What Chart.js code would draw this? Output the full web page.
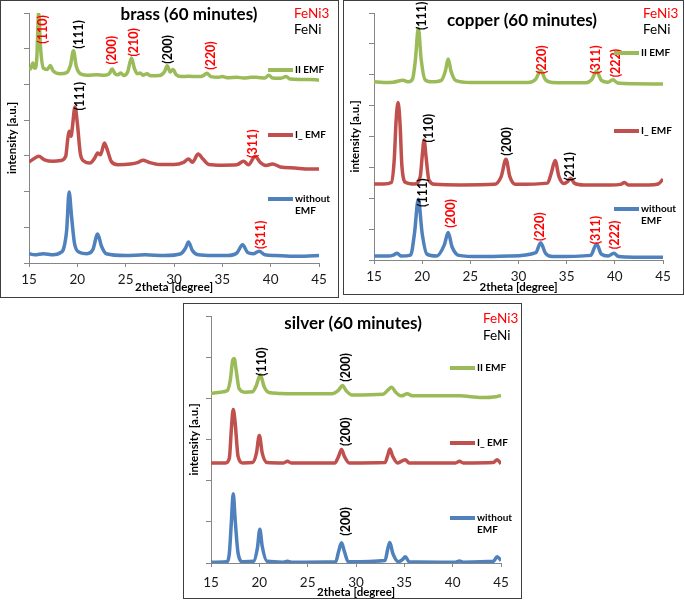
<!DOCTYPE html>
<html>
<head>
<meta charset="utf-8">
<script src="https://cdn.jsdelivr.net/npm/chart.js@4.4.0/dist/chart.umd.min.js"></script>
<style>
  body { margin: 0; background: #fff; }
  #page { position: relative; width: 685px; height: 601px; overflow: hidden; }
  canvas { position: absolute; }
  .box { position: absolute; border: 1.5px solid #3f3f3f; box-sizing: border-box; pointer-events: none; }
</style>
</head>
<body>
<div id="page">
  <canvas id="brass" width="339" height="298" style="left:0px;top:0px"></canvas>
  <canvas id="copper" width="341" height="295" style="left:343px;top:0px"></canvas>
  <canvas id="silver" width="339" height="296" style="left:183px;top:303px"></canvas>
  <div class="box" style="left:0px;top:0px;width:339px;height:298px"></div>
  <div class="box" style="left:343px;top:0px;width:341px;height:295px"></div>
  <div class="box" style="left:183px;top:303px;width:339px;height:296px"></div>
</div>
<script>
// series names
var seriesNames = ['II EMF', 'I_ EMF', 'without\nEMF'];

// ---- brass (60 minutes) ----
var brassX2 = [15.0,15.2,15.4,15.6,15.8,16.0,16.2,16.5,16.9,17.2,17.5,18.2,18.9,19.3,19.6,19.9,20.3,21.0,22.0,22.8,23.3,23.6,23.9,24.2,24.5,24.8,25.2,25.6,25.9,26.2,26.5,26.8,27.2,27.6,28.5,29.0,29.3,29.6,29.9,30.2,30.8,31.5,32.5,33.0,33.4,33.8,34.6,35.0,35.5,36.5,37.2,38.0,38.5,39.4,39.8,40.2,41.0,41.6,42.0,43.0,44.0,45.0];
var brassY2 = [5.42,5.45,5.6,5.45,5.7,7.0,6.0,5.45,5.42,5.53,5.38,5.3,5.33,5.55,5.94,5.5,5.3,5.26,5.27,5.26,5.3,5.43,5.3,5.27,5.32,5.25,5.35,5.74,5.45,5.3,5.32,5.26,5.3,5.24,5.25,5.35,5.52,5.35,5.42,5.28,5.22,5.23,5.22,5.24,5.31,5.22,5.2,5.22,5.19,5.2,5.18,5.2,5.2,5.18,5.26,5.18,5.17,5.22,5.15,5.14,5.14,5.12];
var brassX1 = [15.0,15.5,16.0,16.6,17.5,18.3,18.8,19.0,19.15,19.35,19.5,19.75,20.0,20.3,20.7,21.3,21.8,22.1,22.4,22.8,23.1,23.5,24.2,25.5,26.3,26.8,27.4,28.5,30.0,31.0,31.5,31.9,32.5,33.0,33.6,35.0,36.5,37.2,37.7,38.4,38.9,39.5,40.2,41.0,42.5,44.0,45.0];
var brassY1 = [2.83,2.92,2.99,2.89,2.85,2.87,2.99,3.45,3.69,3.55,3.83,4.37,3.92,3.08,2.85,2.80,2.94,3.08,3.03,3.36,3.17,2.85,2.75,2.77,2.82,2.88,2.82,2.76,2.76,2.82,2.91,2.82,3.05,2.91,2.76,2.74,2.75,2.85,2.75,2.99,2.82,2.73,2.77,2.69,2.66,2.63,2.63];
var brassX0 = [15.0,15.6,16.5,17.5,18.2,18.6,18.9,19.15,19.4,19.7,20.2,21.0,21.6,22.1,22.5,23.0,25.0,27.0,29.0,30.7,31.2,31.5,31.9,32.5,34.0,35.5,36.5,37.1,37.6,38.2,38.8,39.4,40.5,42.0,43.5,45.0];
var brassY0 = [0.26,0.23,0.26,0.23,0.28,0.42,0.93,1.99,1.31,0.56,0.30,0.26,0.37,0.81,0.47,0.26,0.21,0.23,0.21,0.26,0.42,0.59,0.35,0.23,0.21,0.21,0.28,0.51,0.30,0.26,0.33,0.23,0.21,0.19,0.19,0.21];
var brassHkl      = ['(110)','(111)','(200)','(210)','(200)','(220)','(111)','(311)','(311)'];
var brassHklX     = [16.45, 20.14, 23.6, 25.84, 29.4, 33.78, 20.25, 38.2, 38.96];
var brassHklY     = [6.54, 6.40, 5.96, 6.18, 5.98, 5.81, 4.67, 3.34, 0.79];
var brassHklPhase = ['FeNi3','FeNi','FeNi3','FeNi3','FeNi','FeNi3','FeNi','FeNi3','FeNi3'];

// ---- copper (60 minutes) ----
var copperX2 = [15.0,16.0,17.0,18.0,18.6,19.0,19.3,19.6,19.9,20.3,21.0,22.0,22.4,22.7,23.0,23.5,25.0,28.0,31.0,31.8,32.3,32.8,33.5,37.0,37.6,38.1,38.6,39.3,39.8,40.3,42.0,45.0];
var copperY2 = [5.77,5.75,5.76,5.82,5.77,5.86,6.49,7.51,6.49,5.84,5.77,5.82,6.11,6.51,6.11,5.81,5.75,5.75,5.75,5.86,6.14,5.84,5.75,5.74,5.84,6.11,5.82,5.76,5.84,5.73,5.71,5.70];
var copperX1 = [15.0,16.0,16.8,17.1,17.3,17.5,17.7,17.9,18.3,19.2,19.8,20.0,20.2,20.4,20.7,21.3,24.0,27.5,28.2,28.7,29.1,29.7,33.0,33.4,33.8,34.2,34.7,35.1,35.4,35.8,36.8,39.5,40.6,41.0,41.4,43.5,44.5,45.0];
var copperY1 = [2.46,2.46,2.51,3.24,4.54,5.10,4.43,3.03,2.51,2.46,2.70,3.35,3.89,3.35,2.59,2.45,2.43,2.45,2.70,3.26,2.70,2.45,2.49,2.81,3.22,2.70,2.48,2.54,2.65,2.49,2.43,2.43,2.45,2.51,2.43,2.43,2.46,2.62];
var copperX0 = [15.0,16.5,17.0,17.4,17.8,18.8,19.2,19.6,20.0,20.5,21.5,22.3,22.7,23.1,23.8,26.0,29.0,31.8,32.3,32.8,33.5,37.5,38.1,38.6,39.3,39.9,40.4,42.0,45.0];
var copperY0 = [0.13,0.13,0.16,0.22,0.13,0.16,0.86,1.97,0.86,0.19,0.13,0.49,0.89,0.43,0.15,0.11,0.13,0.24,0.56,0.22,0.11,0.15,0.52,0.19,0.13,0.22,0.11,0.09,0.09];
var copperHkl      = ['(111)','(220)','(311)','(222)','(110)','(200)','(211)','(111)','(200)','(220)','(311)','(222)'];
var copperHklX     = [20.01, 32.39, 38.09, 40.16, 20.74, 28.76, 35.33, 20.12, 22.98, 32.21, 37.99, 39.99];
var copperHklY     = [7.91, 6.49, 6.49, 6.38, 4.27, 3.84, 3.03, 2.18, 1.51, 1.08, 0.97, 0.81];
var copperHklPhase = ['FeNi','FeNi3','FeNi3','FeNi3','FeNi','FeNi','FeNi','FeNi','FeNi3','FeNi3','FeNi3','FeNi3'];

// ---- silver (60 minutes) ----
var silverX2 = [15.0,16.0,16.7,17.0,17.25,17.4,17.6,17.9,18.5,19.3,19.7,20.1,20.5,21.0,22.0,22.9,24.0,27.5,28.2,28.6,29.0,29.6,32.8,33.3,33.7,34.1,34.7,35.3,35.8,38.5,40.7,43.0,44.5,45.0];
var silverY2 = [4.12,4.15,4.19,4.45,4.93,4.97,4.69,4.24,4.15,4.16,4.32,4.57,4.28,4.14,4.12,4.11,4.11,4.11,4.20,4.31,4.18,4.08,4.10,4.20,4.27,4.15,4.06,4.11,4.06,4.06,4.06,4.02,4.04,4.07];
var silverX1 = [15.0,16.5,16.9,17.1,17.3,17.5,17.8,18.3,19.3,19.7,20.0,20.3,20.8,22.5,22.9,23.3,27.8,28.2,28.5,28.8,29.3,33.0,33.3,33.5,33.8,34.3,35.1,35.5,40.3,40.7,41.1,44.2,44.6,45.0];
var silverY1 = [2.43,2.43,2.55,3.23,3.73,3.40,2.59,2.43,2.44,2.67,3.10,2.67,2.44,2.43,2.47,2.43,2.43,2.59,2.76,2.59,2.43,2.44,2.63,2.77,2.59,2.43,2.51,2.43,2.43,2.47,2.43,2.44,2.51,2.41];
var silverX0 = [15.0,16.6,16.9,17.1,17.3,17.5,17.8,18.3,19.4,19.8,20.05,20.3,20.8,22.5,22.9,23.3,27.9,28.2,28.5,28.8,29.2,33.0,33.3,33.5,33.8,34.4,34.8,35.1,35.5,40.3,40.7,41.1,44.2,44.6,45.0];
var silverY0 = [0.02,0.03,0.24,0.97,1.68,1.05,0.24,0.03,0.04,0.36,0.82,0.40,0.04,0.02,0.04,0.02,0.03,0.28,0.49,0.28,0.03,0.06,0.36,0.50,0.24,0.03,0.08,0.15,0.03,0.02,0.05,0.02,0.04,0.15,0.06];
var silverHkl      = ['(110)','(200)','(200)','(200)'];
var silverHklX     = [20.24, 28.93, 28.93, 28.93];
var silverHklY     = [4.89, 4.75, 3.19, 1.01];
var silverHklPhase = ['FeNi','FeNi','FeNi','FeNi'];

var FONT = 'Lato, "Open Sans", sans-serif';
var colors = ['#9BBB59', '#C0504D', '#4F81BD'];
var phaseColor = { FeNi3: '#FF0000', FeNi: '#000000' };

// per-chart decoration layout (canvas pixel coords)
var LAYOUT = {};

var decor = {
  id: 'decor',
  afterDraw: function (chart) {
    var L = LAYOUT[chart.canvas.id];
    var ctx = chart.ctx, a = chart.chartArea;
    var xs = chart.scales.x, ys = chart.scales.y;
    ctx.save();
    ctx.textBaseline = 'middle';

    // peak labels
    ctx.font = 'bold 12.5px ' + FONT;
    ctx.textAlign = 'center';
    L.hkl.forEach(function (t, i) {
      ctx.save();
      ctx.translate(xs.getPixelForValue(L.hklX[i]), ys.getPixelForValue(L.hklY[i]));
      ctx.rotate(-Math.PI / 2);
      ctx.fillStyle = phaseColor[L.hklPhase[i]];
      ctx.fillText(t, 0, 0);
      ctx.restore();
    });

    // title
    ctx.fillStyle = '#000';
    ctx.font = 'bold 17px ' + FONT;
    ctx.fillText(L.title, L.titleX, L.titleY);

    // phase key
    ctx.textAlign = 'left';
    ctx.font = '13.5px ' + FONT;
    ctx.fillStyle = '#FF0000';
    ctx.fillText('FeNi3', L.feX, L.feY[0]);
    ctx.fillStyle = '#000';
    ctx.fillText('FeNi', L.feX, L.feY[1]);

    // legend
    ctx.font = 'bold 10px ' + FONT;
    seriesNames.forEach(function (n, i) {
      var yy = L.legY[i];
      ctx.strokeStyle = colors[i];
      ctx.lineWidth = 4;
      ctx.beginPath();
      ctx.moveTo(L.legX, yy);
      ctx.lineTo(L.legX + 25, yy);
      ctx.stroke();
      ctx.fillStyle = '#000';
      n.split('\n').forEach(function (part, k) {
        ctx.fillText(part, L.legX + 27, yy + k * 12);
      });
    });

    // axis titles
    ctx.font = 'bold 11.5px ' + FONT;
    ctx.textAlign = 'center';
    ctx.fillText('2theta [degree]', (a.left + a.right) / 2, L.xTitleY);
    ctx.save();
    ctx.translate(L.yTitleX, (a.top + a.bottom) / 2);
    ctx.rotate(-Math.PI / 2);
    ctx.fillText('intensity [a.u.]', 0, 0);
    ctx.restore();

    ctx.restore();
  }
};

function xrdChart(id, xArr, yArr, yMax, L) {
  LAYOUT[id] = L;
  return new Chart(document.getElementById(id), {
    type: 'scatter',
    data: {
      datasets: xArr.map(function (xv, s) {
        return {
          label: seriesNames[s],
          data: xv.map(function (v, i) { return { x: v, y: yArr[s][i] }; }),
          showLine: true,
          borderColor: colors[s],
          backgroundColor: colors[s],
          borderWidth: 3.5,
          pointRadius: 0,
          cubicInterpolationMode: 'monotone',
          fill: false
        };
      })
    },
    options: {
      responsive: false,
      animation: false,
      layout: { padding: { left: 0, top: L.top, right: L.right, bottom: 0 } },
      plugins: { legend: { display: false }, tooltip: { enabled: false } },
      scales: {
        x: {
          type: 'linear', min: 15, max: 45,
          ticks: { stepSize: 5, maxRotation: 0, padding: L.tickPad, color: '#1a1a1a', font: { family: FONT, size: 13.5 } },
          grid: { drawOnChartArea: false, tickLength: 4, color: '#868686' },
          border: { color: '#868686' },
          afterFit: function (s) { s.height = L.xh; }
        },
        y: {
          min: 0, max: yMax,
          ticks: { stepSize: 1, display: false },
          grid: { drawOnChartArea: false, tickLength: 5, color: '#868686' },
          border: { color: '#868686' },
          afterFit: function (s) { s.width = L.left; }
        }
      }
    },
    plugins: [decor]
  });
}

xrdChart('brass', [brassX2, brassX1, brassX0], [brassY2, brassY1, brassY0], 7, {
  left: 29, right: 20, top: 13, xh: 35, tickPad: 5,
  title: 'brass (60 minutes)', titleX: 189, titleY: 15,
  feX: 294, feY: [14, 30],
  legX: 268, legY: [70, 135, 199],
  xTitleY: 287, yTitleX: 12,
  hkl: brassHkl, hklX: brassHklX, hklY: brassHklY, hklPhase: brassHklPhase
});

xrdChart('copper', [copperX2, copperX1, copperX0], [copperY2, copperY1, copperY0], 8, {
  left: 31, right: 21, top: 13, xh: 35, tickPad: 5,
  title: 'copper (60 minutes)', titleX: 179, titleY: 21,
  feX: 300, feY: [14, 30],
  legX: 271, legY: [53, 131, 209],
  xTitleY: 287, yTitleX: 12,
  hkl: copperHkl, hklX: copperHklX, hklY: copperHklY, hklPhase: copperHklPhase
});

xrdChart('silver', [silverX2, silverX1, silverX0], [silverY2, silverY1, silverY0], 6, {
  left: 28, right: 21, top: 13, xh: 36, tickPad: 8,
  title: 'silver (60 minutes)', titleX: 170, titleY: 21,
  feX: 300, feY: [16, 33],
  legX: 267, legY: [65, 140, 215],
  xTitleY: 289, yTitleX: 11,
  hkl: silverHkl, hklX: silverHklX, hklY: silverHklY, hklPhase: silverHklPhase
});
</script>
</body>
</html>
